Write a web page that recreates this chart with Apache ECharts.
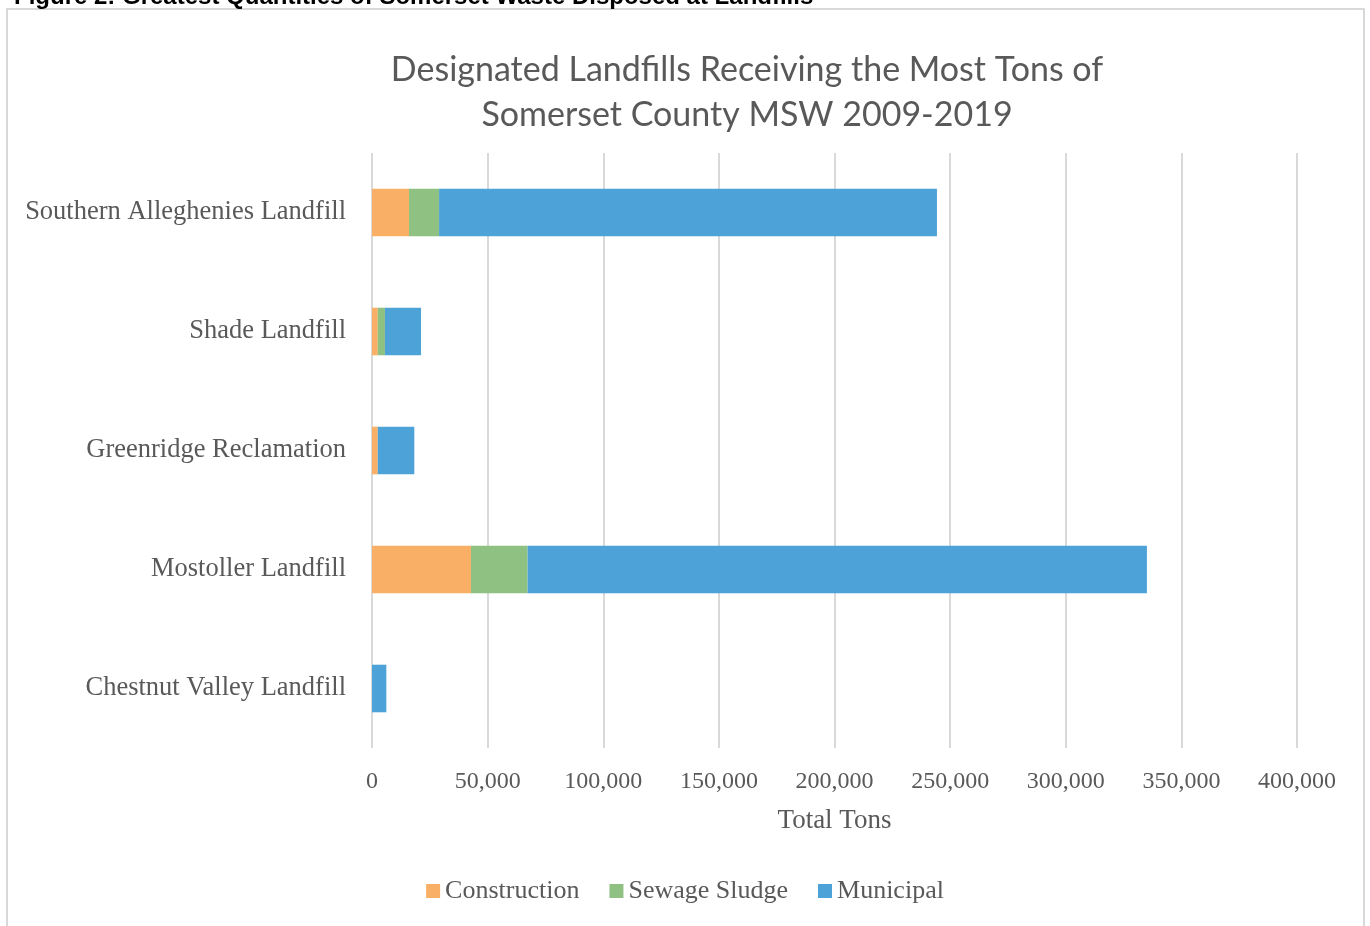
<!DOCTYPE html>
<html>
<head>
<meta charset="utf-8">
<script src="https://cdn.jsdelivr.net/npm/echarts@6/dist/echarts.min.js"></script>
<style>
  html, body { margin: 0; padding: 0; background: #fff; }
  #chart { width: 1370px; height: 926px; }
</style>
</head>
<body>
<div id="chart"></div>
<script>
// landfills, bottom to top as drawn
const landfills = ['Chestnut Valley Landfill', 'Mostoller Landfill', 'Greenridge Reclamation', 'Shade Landfill', 'Southern Alleghenies Landfill']
const construction = [0, 42800, 2500, 2500, 16000]
const sewageSludge = [0, 24500, 0, 3100, 13000]
const municipal = [6200, 267800, 15800, 15600, 215300]
const xTicks = [0, 50000, 100000, 150000, 200000, 250000, 300000, 350000, 400000]

const serif = '"Liberation Serif", "DejaVu Serif", serif'
const grey = '#595959'

function fmt(v) {
    return v.toLocaleString('en-US')
}

var chart = echarts.init(document.getElementById('chart'))

function barSeries(name, data, color) {
    return {
        name: name,
        type: 'bar',
        stack: 'total',
        barWidth: '40%',
        itemStyle: { color: color },
        data: data
    }
}

var option = {
    backgroundColor: '#fff',
    animation: false,
    title: [
        {
            text: 'Figure 2: Greatest Quantities of Somerset Waste Disposed at Landfills',
            left: 9,
            top: -20,
            textStyle: { fontFamily: 'Liberation Sans, Arial, sans-serif', fontWeight: 'bold', fontSize: 24, color: '#000' }
        },
        {
            text: 'Designated Landfills Receiving the Most Tons of\nSomerset County MSW 2009-2019',
            left: 742,
            textAlign: 'center',
            top: 43,
            textStyle: { fontFamily: 'Lato, "Open Sans", sans-serif', fontWeight: 'normal', fontSize: 34, lineHeight: 45, color: grey }
        }
    ],
    graphic: [
        {
            type: 'rect',
            shape: { x: 7, y: 9, width: 1357, height: 940 },
            style: { fill: 'none', stroke: '#d9d9d9', lineWidth: 2 },
            silent: true
        }
    ],
    legend: {
        bottom: 17,
        left: 'center',
        itemWidth: 14,
        itemHeight: 14,
        itemGap: 30,
        icon: 'rect',
        textStyle: { fontFamily: serif, fontSize: 26, color: grey }
    },
    grid: {
        left: 372,
        right: 73,
        top: 153,
        bottom: 178
    },
    xAxis: {
        type: 'value',
        min: 0,
        max: 400000,
        interval: 50000,
        name: 'Total Tons',
        nameLocation: 'middle',
        nameGap: 59,
        nameTextStyle: { fontFamily: serif, fontSize: 27, color: grey },
        axisLine: { show: false },
        axisTick: { show: false },
        axisLabel: {
            margin: 22,
            fontFamily: serif,
            fontSize: 24,
            color: grey,
            formatter: function (v) { return xTicks.includes(v) ? fmt(v) : '' }
        },
        splitLine: { show: true, lineStyle: { color: '#d9d9d9', width: 2 } }
    },
    yAxis: {
        type: 'category',
        data: landfills,
        axisLine: { show: false },
        axisTick: { show: false },
        axisLabel: {
            margin: 26,
            fontFamily: serif,
            fontSize: 26.5,
            color: grey
        }
    },
    series: [
        barSeries('Construction', construction, '#f9b066'),
        barSeries('Sewage Sludge', sewageSludge, '#8fc183'),
        barSeries('Municipal', municipal, '#4da3d8')
    ]
}

chart.setOption(option)
</script>
</body>
</html>
